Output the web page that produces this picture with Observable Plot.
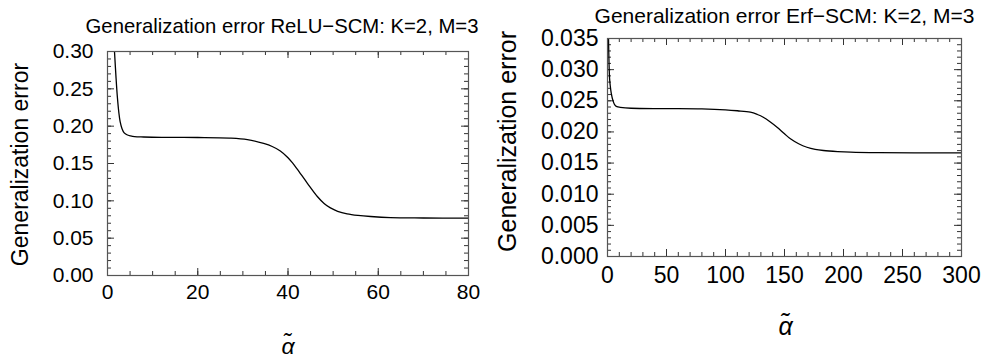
<!DOCTYPE html>
<html>
<head>
<meta charset="utf-8">
<script src="https://cdn.jsdelivr.net/npm/d3@7"></script>
<script src="https://cdn.jsdelivr.net/npm/@observablehq/plot@0.6"></script>
<style>
  html, body { margin: 0; padding: 0; background: #fff; }
  #wrap { position: relative; width: 984px; height: 363px; overflow: hidden; background: #fff; }
  #left { position: absolute; left: 0; top: 0; }
  #right { position: absolute; left: 490px; top: 0; }
</style>
</head>
<body>
<div id="wrap"><div id="left"></div><div id="right"></div></div>
<script>
// ---- data ----
const reluTitle = "Generalization error ReLU\u2212SCM: K=2, M=3";
const erfTitle = "Generalization error Erf\u2212SCM: K=2, M=3";
const yLabel = "Generalization error";
const xLabel = "\u03B1\u0303";

const reluX = [1.55, 1.9, 2.2, 2.5, 2.8, 3.2, 3.7, 4.3, 5.1, 6, 8, 12, 20, 27, 31, 34.6, 36.5, 38.3, 40, 41, 42, 44.3, 46.5, 48, 49.4, 51, 53.1, 55.5, 58.3, 62.7, 70, 80];
const reluY = [0.30, 0.264, 0.238, 0.219, 0.206, 0.197, 0.191, 0.1885, 0.187, 0.186, 0.1855, 0.185, 0.1848, 0.184, 0.182, 0.1768, 0.1728, 0.1668, 0.1578, 0.1508, 0.1428, 0.1235, 0.1058, 0.0965, 0.0905, 0.086, 0.0826, 0.0805, 0.079, 0.0775, 0.077, 0.0768];

const erfX = [0.85, 1.3, 1.8, 2.3, 3.2, 4.6, 6, 8, 10.8, 20, 50, 80, 100, 110, 121, 127, 132, 138, 143.7, 150, 155, 162, 169, 176, 183, 195, 206, 230, 260, 300];
const erfY = [0.035, 0.031, 0.0285, 0.02745, 0.0262, 0.02505, 0.0244, 0.02405, 0.02395, 0.0238, 0.02375, 0.0237, 0.02355, 0.0234, 0.02317, 0.0228, 0.02236, 0.0216, 0.02076, 0.0197, 0.01889, 0.0181, 0.01754, 0.0172, 0.01702, 0.01685, 0.01675, 0.01667, 0.01665, 0.01664];

const reluXTicks = [0, 20, 40, 60, 80];
const reluYTicks = [0, 0.05, 0.10, 0.15, 0.20, 0.25, 0.30];
const erfXTicks = [0, 50, 100, 150, 200, 250, 300];
const erfYTicks = [0, 0.005, 0.010, 0.015, 0.020, 0.025, 0.030, 0.035];

const reluXMinor = d3.range(0, 80.001, 5);
const reluYMinor = d3.range(0, 0.30001, 0.01);
const erfXMinor = d3.range(0, 300.001, 10);
const erfYMinor = d3.range(0, 0.035001, 0.001);

function panel(cfg) {
  const fw = cfg.width - cfg.ml - cfg.mr;
  const fh = cfg.height - cfg.mt - cfg.mb;
  const data = cfg.xs.map((x, i) => ({x, y: cfg.ys[i]}));
  const tk = "#333";
  const ticksX = (vals, len) => [
    Plot.tickX(vals, {x: d => d, insetTop: fh - len, stroke: tk, strokeWidth: 1}),
    Plot.tickX(vals, {x: d => d, insetBottom: fh - len, stroke: tk, strokeWidth: 1})
  ];
  const ticksY = (vals, len) => [
    Plot.tickY(vals, {y: d => d, insetRight: fw - len, stroke: tk, strokeWidth: 1}),
    Plot.tickY(vals, {y: d => d, insetLeft: fw - len, stroke: tk, strokeWidth: 1})
  ];
  return Plot.plot({
    width: cfg.width,
    height: cfg.height,
    marginLeft: cfg.ml, marginRight: cfg.mr, marginTop: cfg.mt, marginBottom: cfg.mb,
    style: {fontFamily: "'Liberation Sans', Arial, sans-serif", color: "black", background: "white"},
    x: {domain: cfg.xDomain},
    y: {domain: cfg.yDomain},
    marks: [
      ...ticksX(cfg.xMinor, cfg.minorLen),
      ...ticksX(cfg.xTicks, cfg.majorLen),
      ...ticksY(cfg.yMinor, cfg.minorLen),
      ...ticksY(cfg.yTicks, cfg.majorLen),
      Plot.axisX({ticks: cfg.xTicks, tickSize: 0, tickPadding: cfg.xPad, fontSize: cfg.tickFont, label: null, tickFormat: d3.format("d")}),
      Plot.axisY({ticks: cfg.yTicks, tickSize: 0, tickPadding: cfg.yPad, fontSize: cfg.tickFont, label: null, tickFormat: d3.format(cfg.yFmt)}),
      Plot.line(data, {x: "x", y: "y", curve: "catmull-rom", stroke: "black", strokeWidth: 1.3, clip: true}),
      Plot.frame({stroke: "#555", strokeWidth: 1.2}),
      Plot.text([cfg.title], {frameAnchor: "top", textAnchor: "middle", dx: cfg.titleDx, dy: cfg.titleDy, fontSize: cfg.titleFont, lineAnchor: "middle"}),
      Plot.text([yLabel], {frameAnchor: "left", textAnchor: "middle", rotate: -90, dx: cfg.yLabDx, dy: cfg.yLabDy, fontSize: cfg.labFont, lineAnchor: "middle"}),
      Plot.text([xLabel], {frameAnchor: "bottom", textAnchor: "middle", dx: cfg.xLabDx, dy: cfg.xLabDy, fontSize: cfg.labFont, fontStyle: "italic", lineAnchor: "middle"})
    ]
  });
}

document.getElementById("left").appendChild(panel({
  width: 490, height: 363, ml: 107, mr: 22, mt: 51, mb: 88,
  xs: reluX, ys: reluY, xDomain: [0, 80], yDomain: [0, 0.30],
  xTicks: reluXTicks, yTicks: reluYTicks, xMinor: reluXMinor, yMinor: reluYMinor,
  majorLen: 7, minorLen: 4, tickFont: 21, xPad: 9, yPad: 14, yFmt: ".2f",
  title: reluTitle, titleFont: 20.3, titleDx: -6, titleDy: -25.5,
  labFont: 23, yLabDx: -87, yLabDy: 1, xLabDx: 0, xLabDy: 71
}));

document.getElementById("right").appendChild(panel({
  width: 494, height: 363, ml: 117, mr: 23, mt: 38, mb: 107,
  xs: erfX, ys: erfY, xDomain: [0, 300], yDomain: [0, 0.035],
  xTicks: erfXTicks, yTicks: erfYTicks, xMinor: erfXMinor, yMinor: erfYMinor,
  majorLen: 7, minorLen: 4, tickFont: 23, xPad: 10, yPad: 9, yFmt: ".3f",
  title: erfTitle, titleFont: 21, titleDx: 0, titleDy: -22.5,
  labFont: 25, yLabDx: -100, yLabDy: -6, xLabDx: 1, xLabDy: 70
}));
</script>
</body>
</html>
